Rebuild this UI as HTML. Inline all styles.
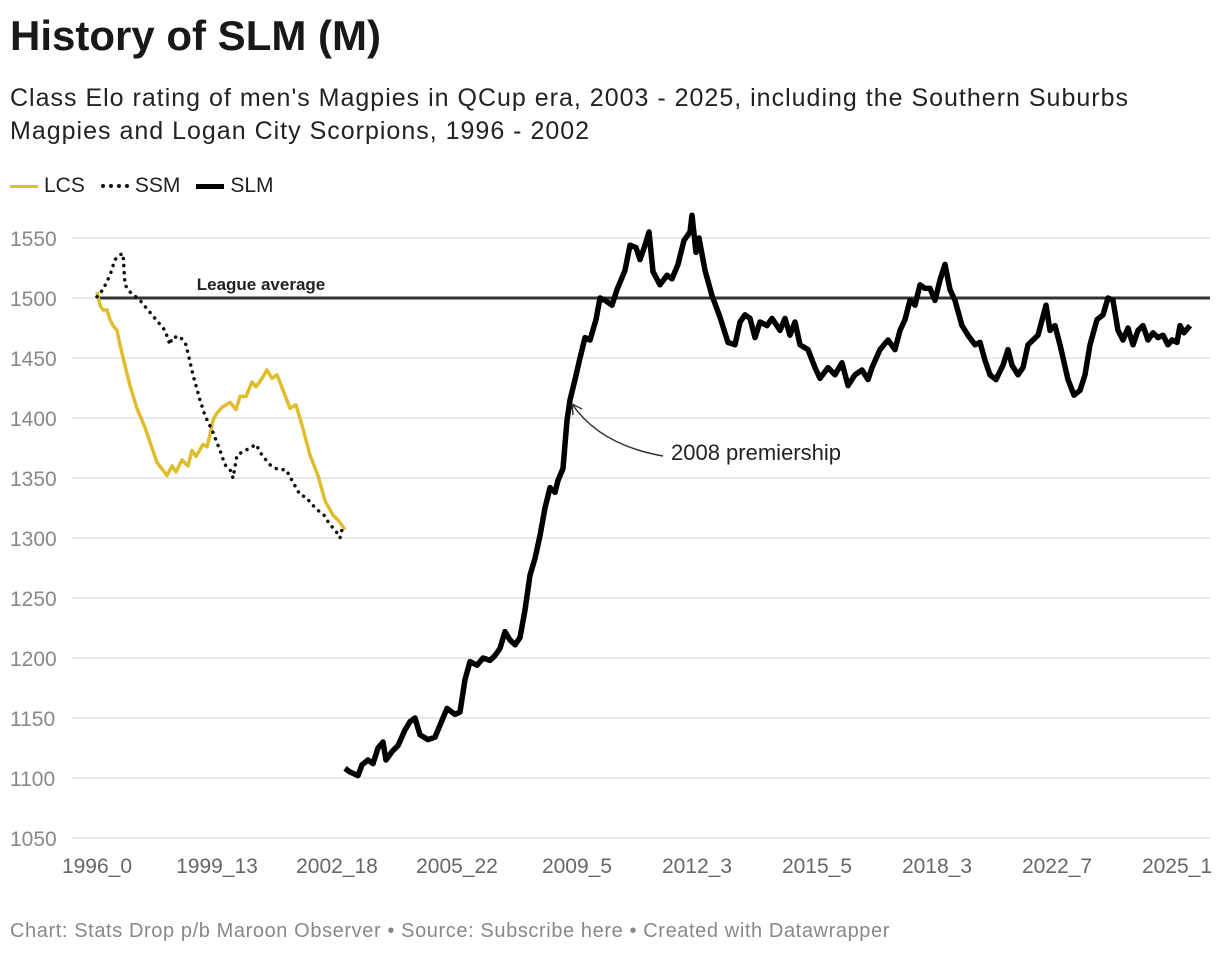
<!DOCTYPE html>
<html><head><meta charset="utf-8">
<style>
body{margin:0;width:1220px;height:954px;background:#fff;font-family:"Liberation Sans",sans-serif;overflow:hidden;position:relative}
.t{position:absolute;left:10px}
</style></head><body>
<div class="t" style="top:12px;font-size:42px;font-weight:bold;color:#181818">History of SLM (M)</div>
<div class="t" style="top:82px;font-size:25px;line-height:33px;letter-spacing:1px;color:#222;width:1170px">Class Elo rating of men's Magpies in QCup era, 2003 - 2025, including the Southern Suburbs Magpies and Logan City Scorpions, 1996 - 2002</div>
<div style="position:absolute;left:10px;top:174px;font-size:21px;color:#222;display:flex;gap:16px;align-items:center">
 <span><span style="display:inline-block;width:28px;height:3px;background:#dfbd2d;vertical-align:middle;margin-right:6px"></span>LCS</span>
 <span><span style="display:inline-block;width:28px;border-top:4px dotted #111;vertical-align:middle;margin-right:6px"></span>SSM</span>
 <span><span style="display:inline-block;width:28px;height:5px;background:#000;vertical-align:middle;margin-right:6px"></span>SLM</span>
</div>
<svg id="chart" width="1220" height="954" style="position:absolute;left:0;top:0" font-family="Liberation Sans, sans-serif"></svg>
<div class="t" style="top:920px;font-size:20px;letter-spacing:0.6px;color:#888">Chart: Stats Drop p/b Maroon Observer • Source: Subscribe here • Created with Datawrapper</div>
<script>
const yTicks=[1050,1100,1150,1200,1250,1300,1350,1400,1450,1500,1550];
const xTickLabels=["1996_0","1999_13","2002_18","2005_22","2009_5","2012_3","2015_5","2018_3","2022_7","2025_1"];
const xTickRounds=[0,120,240,360,480,600,720,840,960,1080];
const leagueAvg=1500;
const lcsRounds=[0,3,6,10,13,16,20,23,27,33,40,48,55,60,70,75,79,85,91,95,99,106,110,113,116,119,125,133,139,143,149,155,159,165,170,175,180,188,193,199,205,213,221,228,236,241,248];
const lcsValues=[1505,1494,1490,1490,1482,1477,1473,1461,1447,1427,1408,1392,1375,1363,1352,1360,1355,1365,1360,1373,1368,1378,1376,1386,1398,1403,1409,1413,1407,1418,1418,1430,1426,1433,1440,1433,1436,1419,1408,1411,1394,1369,1352,1331,1319,1315,1307];
const ssmRounds=[0,6,13,18,23,26,28,33,43,53,61,68,73,75,83,89,96,103,108,115,123,128,133,136,140,146,153,159,165,169,173,181,189,195,203,209,215,221,227,233,238,243,245];
const ssmValues=[1501,1507,1519,1532,1536,1537,1511,1505,1498,1488,1480,1473,1461,1467,1468,1461,1436,1415,1402,1390,1373,1361,1357,1350,1369,1372,1375,1378,1369,1365,1361,1357,1357,1348,1336,1334,1328,1323,1319,1311,1307,1300,1307];
const slmRounds=[248,253,261,265,271,276,281,286,289,295,301,308,313,318,323,331,338,343,350,358,363,368,373,380,386,393,398,403,408,413,418,423,428,433,438,443,448,453,458,461,466,470,473,478,483,488,493,499,503,508,515,520,524,528,533,539,543,548,552,556,563,570,575,581,587,593,595,599,602,608,615,623,631,638,643,648,653,658,663,670,675,683,688,693,698,703,711,718,723,731,738,745,751,758,765,771,775,783,791,798,803,808,813,818,823,828,833,838,843,848,853,858,865,871,878,883,888,893,899,906,911,915,921,926,931,936,941,949,953,958,963,971,977,983,988,993,1000,1006,1011,1016,1021,1026,1031,1036,1041,1046,1051,1056,1061,1066,1071,1075,1080,1083,1087,1093];
const slmValues=[1108,1105,1102,1111,1115,1112,1125,1130,1115,1122,1127,1140,1147,1150,1136,1132,1134,1144,1158,1153,1155,1182,1197,1194,1200,1198,1202,1208,1222,1215,1211,1217,1240,1269,1283,1302,1325,1342,1338,1348,1358,1398,1415,1432,1450,1467,1465,1482,1500,1498,1494,1507,1515,1523,1544,1542,1532,1544,1555,1522,1511,1519,1516,1528,1548,1555,1569,1538,1550,1523,1502,1484,1463,1461,1480,1486,1483,1467,1480,1477,1483,1473,1483,1469,1480,1461,1457,1442,1433,1442,1436,1446,1427,1436,1440,1432,1442,1457,1465,1457,1473,1482,1498,1494,1511,1508,1508,1498,1515,1528,1507,1498,1477,1469,1461,1463,1448,1436,1432,1444,1457,1444,1436,1442,1461,1465,1469,1494,1473,1477,1461,1432,1419,1423,1436,1461,1482,1486,1500,1498,1473,1465,1475,1461,1473,1477,1465,1471,1467,1469,1461,1465,1463,1477,1471,1477];

const NS="http://www.w3.org/2000/svg";
const svg=document.getElementById('chart');
const X0=97,X1=1210,R1=1113;
const xs=r=>X0+(r/R1)*(X1-X0);
const ys=v=>298-(v-1500)*1.2;
function mk(tag,attrs){const e=document.createElementNS(NS,tag);for(const k in attrs)e.setAttribute(k,attrs[k]);svg.appendChild(e);return e;}
yTicks.forEach(v=>{
 const g=mk('line',{x1:72,x2:1210,y1:ys(v),y2:ys(v),stroke:'#e2e2e2','stroke-width':1.5});
 
 
 const t=mk('text',{x:10,y:ys(v)+8,'font-size':21,fill:'#888'});t.textContent=v;
 
 
});
xTickLabels.forEach((l,i)=>{
 const t=mk('text',{x:xs(xTickRounds[i]),y:873,'font-size':21,fill:'#666','text-anchor':'middle'});t.textContent=l;
 
 
});
const la=mk('line',{x1:97,x2:1210,y1:ys(leagueAvg),y2:ys(leagueAvg),stroke:'#333','stroke-width':3});


const lt=mk('text',{x:261,y:ys(leagueAvg)-8,'font-size':17,'font-weight':'bold',fill:'#222','text-anchor':'middle'});lt.textContent='League average';


function path(r,v){return r.map((x,i)=>(i?'L':'M')+xs(x).toFixed(1)+','+ys(v[i]).toFixed(1)).join('');}
const p1=mk('path',{d:path(lcsRounds,lcsValues),fill:'none',stroke:'#dfbd2d','stroke-width':3.5,'stroke-linejoin':'round'});


const p2=mk('path',{d:path(ssmRounds,ssmValues),fill:'none',stroke:'#111','stroke-width':3.5,'stroke-dasharray':'0.1 7','stroke-linecap':'round'});


const p3=mk('path',{d:path(slmRounds,slmValues),fill:'none',stroke:'#000','stroke-width':5.5,'stroke-linejoin':'round'});


const ar=mk('path',{d:'M663,456 Q600,445 572,404 M572,404 l1,11 M572,404 l10,5',fill:'none',stroke:'#333','stroke-width':1.5});


const at=mk('text',{x:671,y:460,'font-size':22,fill:'#222'});at.textContent='2008 premiership';


</script>
</body></html>
